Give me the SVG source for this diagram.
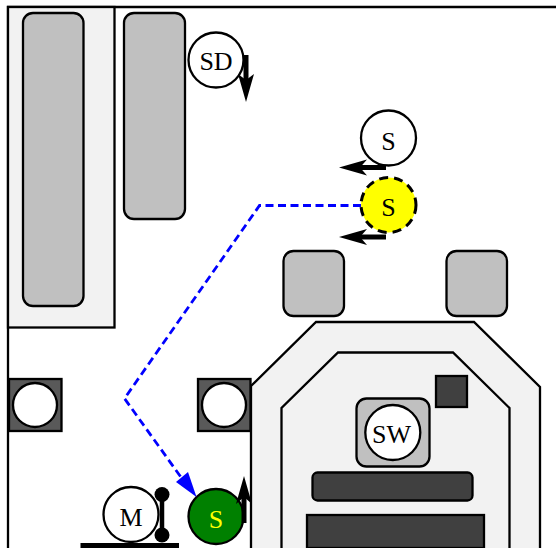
<svg xmlns="http://www.w3.org/2000/svg" width="556" height="548" viewBox="0 0 556 548">
<style>
.l{fill:#f2f2f2;stroke:#000;stroke-width:2.300}
.g{fill:#c0c0c0;stroke:#000;stroke-width:2.300}
.d{fill:#404040;stroke:#000;stroke-width:2.300}
.b{fill:#595959;stroke:#000;stroke-width:2.300}
.c{fill:#fff;stroke:#000;stroke-width:2.300}
text{font-family:"Liberation Serif","Times New Roman",serif;font-size:26px;text-anchor:middle;fill:#000}
.a{fill:none;stroke:#000;stroke-width:5}
.h{fill:#000;stroke:none}
</style>
<rect width="556" height="548" fill="#fff"/>
<g id="frame"><path d="M8 548V7H556" fill="none" stroke="#000" stroke-width="2.300"/></g>
<g id="left-bay"><rect class="l" x="8" y="7" width="106.500" height="320.500"/></g>
<g id="left-bar"><rect class="g" x="23" y="13" width="60.500" height="293" rx="10"/></g>
<g id="mid-bar"><rect class="g" x="124" y="13" width="61" height="206" rx="10"/></g>
<g id="block-1"><rect class="g" x="283.500" y="251" width="60.500" height="65" rx="10"/></g>
<g id="block-2"><rect class="g" x="446.500" y="251" width="60.500" height="65" rx="10"/></g>
<g id="hull"><path class="l" d="M251 548V386L316 322H474L540 387V548"/></g>
<g id="hull-inner"><path class="l" d="M281.500 548V408L338 352.500H453L509.500 408V548"/></g>
<g id="square"><rect class="d" x="436" y="376" width="31" height="31"/></g>
<g id="sw"><rect class="g" x="356.500" y="398.500" width="73" height="68" rx="10"/><circle class="c" cx="392.800" cy="432.500" r="27.500"/><text x="391.500" y="443">SW</text></g>
<g id="bar-dark"><rect class="d" x="312.500" y="472.500" width="160" height="28" rx="5"/></g>
<g id="block-dark"><rect class="d" x="307" y="515" width="177" height="33"/></g>
<g id="port-l"><rect class="b" x="9" y="379" width="52.500" height="52"/><circle class="c" cx="35" cy="405" r="22"/></g>
<g id="port-r"><rect class="b" x="198" y="379" width="52.500" height="52"/><circle class="c" cx="224" cy="405" r="22"/></g>
<g id="rail"><rect x="80.500" y="543" width="98.500" height="5" fill="#000"/></g>
<g id="lever"><path d="M162 495V535" stroke="#000" stroke-width="4.500"/><circle class="h" cx="162" cy="494.500" r="7.500"/><circle class="h" cx="162" cy="535" r="7.500"/></g>
<g id="m"><circle class="c" cx="131" cy="514.500" r="27.500"/><text x="131" y="526">M</text></g>
<g id="sd"><circle class="c" cx="216" cy="60" r="27.500"/><text x="216" y="70">SD</text></g>
<g id="s-top"><circle class="c" cx="388.500" cy="138" r="27.500"/><text x="388.500" y="149.500">S</text></g>
<g id="s-yellow"><circle cx="388.500" cy="205" r="27.500" fill="#ff0" stroke="#000" stroke-width="3" stroke-dasharray="9 6"/><text x="388.500" y="216">S</text></g>
<g id="s-green"><circle cx="216" cy="516.500" r="27.500" fill="#008000" stroke="#000" stroke-width="2.300"/><text x="216" y="528" style="fill:#ff0">S</text></g>
<g id="connectors">
<path d="M361 205.500H259.500L124.500 398.500L183 480" fill="none" stroke="#00f" stroke-width="2.800" stroke-dasharray="8 4.500"/>
<path d="M196.500 497L176 482L188 472Z" fill="#00f"/>
<path class="a" d="M246 55V80"/><path class="h" d="M246 102L238 74L246 80L254 74Z"/>
<path class="a" d="M386 167.500H360"/><path class="h" d="M339 167.500L367 159.500L360 167.500L367 175.500Z"/>
<path class="a" d="M386 237H360"/><path class="h" d="M339 237L367 229L360 237L367 245Z"/>
<path class="a" d="M244 523V496"/><path class="h" d="M244 476L236 504L244 497L252 504Z"/>
</g>
</svg>
